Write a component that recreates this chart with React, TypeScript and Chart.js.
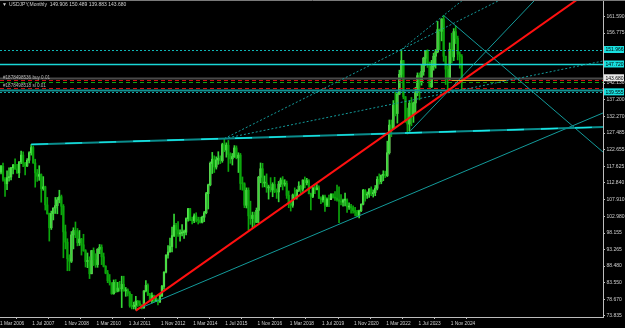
import React, { useEffect, useRef } from "react";
import { Chart, registerables } from "chart.js";

Chart.register(...registerables);

// Monthly USDJPY bars, Mar 2006 .. Apr 2025 (index 0 = Mar 2006)
const opens = [
  116.0, 117.7, 113.9, 112.6, 114.4, 114.6, 117.3, 118.1, 116.9, 115.8,
  119.0, 121.0, 118.6, 117.8, 119.5, 121.7, 123.2, 118.7, 115.8, 114.8, 115.3, 111.2,
  111.7, 106.4, 103.8, 99.7, 103.9, 105.5, 106.2, 107.9, 108.8, 106.0, 98.5, 95.5,
  90.6, 89.9, 97.6, 98.9, 98.5, 95.3, 96.4, 94.7, 93.0, 89.8, 90.1, 86.2,
  93.0, 90.3, 88.9, 93.4, 94.0, 91.2, 88.4, 86.4, 84.2, 83.5, 80.4, 83.7,
  81.1, 82.0, 81.8, 83.1, 81.2, 81.5, 80.5, 76.8, 76.6, 77.0, 78.2, 77.6,
  76.9, 76.2, 81.2, 82.8, 80.0, 78.3, 79.8, 78.1, 78.4, 77.9, 79.8, 82.5,
  86.7, 91.7, 92.6, 94.2, 97.4, 100.4, 99.1, 97.9, 98.1, 98.3, 98.4, 102.4,
  105.3, 102.0, 101.8, 103.2, 102.2, 101.8, 101.3, 102.8, 104.1, 109.7, 112.3, 118.6,
  119.8, 117.5, 119.6, 120.1, 119.4, 124.1, 122.5, 123.9, 121.2, 119.9, 120.6, 123.1,
  120.2, 121.0, 112.7, 112.6, 106.3, 110.7, 103.2, 102.4, 103.4, 101.3, 104.8, 114.5,
  117.0, 112.8, 112.8, 111.4, 111.5, 110.8, 112.4, 110.3, 110.2, 112.5, 113.7, 112.5,
  112.7, 109.2, 106.7, 106.3, 109.3, 108.8, 110.7, 111.9, 111.0, 113.7, 112.9, 113.5,
  109.7, 108.9, 111.4, 110.9, 111.4, 108.3, 107.9, 108.8, 106.3, 108.1, 108.0, 109.5,
  108.6, 108.4, 107.9, 107.5, 107.2, 107.8, 107.9, 105.8, 105.9, 105.5, 104.7, 104.3,
  103.2, 104.7, 106.6, 110.7, 109.3, 109.6, 111.1, 109.7, 110.0, 111.3, 113.9, 113.2,
  115.1, 115.1, 115.0, 121.7, 129.8, 128.7, 135.7, 133.2, 138.9, 144.7, 148.7, 138.1,
  131.1, 130.1, 136.2, 132.8, 136.3, 139.3, 144.3, 142.3, 145.5, 149.4, 151.7, 148.2,
  141.0, 147.0, 150.0, 151.3, 157.8, 157.3, 160.9, 150.0, 146.2, 143.6, 152.0, 149.8,
  157.2, 155.2, 150.6, 149.906,
];
const highs = [
  118.0, 118.7, 114.4, 116.4, 117.3, 117.4, 118.3, 119.9, 118.3, 119.1,
  122.2, 122.0, 118.9, 120.0, 122.0, 124.1, 123.7, 119.8, 116.8, 117.9, 115.5, 114.7,
  111.9, 108.6, 104.0, 104.6, 105.5, 108.6, 108.6, 110.7, 109.3, 106.5, 100.5, 96.5,
  91.8, 98.6, 99.7, 101.4, 99.5, 98.9, 96.6, 97.8, 93.3, 92.3, 91.2, 93.1,
  93.8, 92.1, 93.6, 94.8, 94.7, 92.3, 88.6, 87.2, 86.0, 83.6, 84.4, 84.5,
  83.7, 84.0, 85.5, 85.5, 82.2, 81.8, 81.0, 80.2, 77.9, 79.6, 78.4, 78.3,
  77.2, 81.2, 84.2, 83.3, 80.5, 80.6, 80.0, 79.7, 78.9, 80.4, 82.8, 86.8,
  91.8, 94.5, 96.7, 99.9, 103.7, 101.0, 101.5, 99.1, 100.6, 99.0, 102.6, 105.4,
  105.4, 102.8, 103.8, 104.1, 102.8, 102.8, 103.1, 104.5, 110.1, 112.5, 119.0, 121.8,
  120.8, 120.5, 122.0, 120.8, 124.5, 125.9, 124.6, 125.3, 121.7, 121.5, 123.8, 123.7,
  121.7, 121.5, 114.6, 112.9, 111.4, 111.4, 107.5, 104.3, 104.3, 105.5, 114.8, 118.7,
  118.6, 114.9, 115.5, 112.2, 114.4, 112.9, 114.5, 111.1, 113.3, 114.3, 114.7, 113.8,
  113.4, 110.5, 107.3, 109.6, 111.4, 110.9, 113.2, 112.2, 113.7, 114.6, 114.2, 113.8,
  109.9, 111.5, 112.1, 112.4, 112.0, 108.8, 109.3, 109.3, 108.5, 109.3, 109.7, 109.7,
  110.3, 112.2, 111.7, 109.4, 108.1, 109.9, 108.2, 107.0, 106.6, 106.1, 105.7, 104.8,
  104.9, 106.7, 111.0, 110.9, 110.2, 111.1, 111.7, 110.8, 112.1, 114.7, 115.5, 115.2,
  116.4, 116.3, 125.1, 131.3, 131.3, 137.0, 139.4, 139.1, 145.9, 151.9, 148.8, 138.2,
  134.8, 136.9, 137.9, 136.6, 140.9, 145.1, 145.1, 147.4, 149.7, 151.7, 151.9, 148.3,
  148.8, 150.9, 152.0, 160.2, 158.0, 161.0, 161.95, 150.0, 147.2, 153.9, 156.75, 158.1,
  158.87, 155.9, 151.3, 150.489,
];
const lows = [
  115.5, 113.4, 108.9, 110.9, 113.4, 113.7, 115.5, 116.8, 115.6, 114.4,
  118.5, 117.6, 115.2, 117.6, 118.7, 121.0, 118.6, 111.6, 113.3, 113.6, 107.2, 110.7,
  104.9, 103.7, 95.8, 99.2, 102.0, 103.9, 103.8, 107.0, 103.5, 90.9, 93.5, 87.1,
  87.1, 89.5, 93.5, 96.8, 94.4, 94.5, 91.7, 92.8, 88.2, 88.0, 84.8, 86.3,
  88.6, 88.1, 88.1, 92.1, 88.9, 88.2, 86.2, 83.6, 82.9, 80.2, 80.2, 80.7,
  80.9, 81.1, 76.3, 81.1, 79.6, 79.7, 76.4, 75.9, 75.9, 75.6, 76.6, 76.9,
  75.9, 76.1, 80.9, 79.8, 78.2, 77.7, 77.9, 78.0, 77.1, 77.9, 79.5, 81.7,
  86.5, 90.8, 92.6, 92.6, 97.1, 93.8, 97.2, 95.8, 97.3, 96.6, 97.6, 101.6,
  101.8, 100.8, 101.2, 101.4, 100.8, 101.1, 101.1, 101.5, 103.8, 105.2, 112.0, 115.6,
  115.9, 116.9, 118.3, 118.5, 118.9, 122.0, 120.4, 116.2, 118.6, 118.1, 120.3, 119.9,
  115.9, 110.9, 110.7, 105.6, 105.5, 99.0, 100.7, 99.5, 100.1, 101.2, 101.2, 112.9,
  111.6, 111.7, 110.1, 108.1, 110.2, 108.8, 110.0, 108.3, 107.3, 111.7, 110.8, 111.9,
  108.3, 105.6, 104.6, 105.7, 108.1, 108.1, 110.3, 109.8, 110.4, 111.4, 112.3, 109.6,
  104.9, 108.5, 109.7, 110.8, 108.3, 106.8, 107.2, 104.5, 105.9, 105.9, 108.3, 108.4,
  107.7, 107.5, 101.2, 106.4, 106.0, 106.1, 104.2, 105.1, 104.0, 104.0, 103.2, 102.9,
  102.6, 104.4, 106.4, 107.5, 108.3, 108.6, 109.1, 108.7, 109.1, 110.8, 112.5, 112.6,
  113.5, 114.4, 114.7, 121.3, 126.4, 128.7, 132.5, 130.4, 138.7, 143.5, 137.5, 130.6,
  127.2, 128.1, 129.6, 130.6, 133.5, 138.4, 137.2, 141.5, 144.4, 147.3, 146.7, 140.9,
  140.8, 145.9, 146.5, 151.0, 151.9, 154.5, 148.5, 141.7, 139.6, 142.97, 148.0, 148.7,
  153.7, 148.9, 146.5, 139.883,
];
const closes = [
  117.7, 113.9, 112.6, 114.4, 114.6, 117.3, 118.1, 116.9, 115.8, 119.0,
  121.0, 118.6, 117.8, 119.5, 121.7, 123.2, 118.7, 115.8, 114.8, 115.3, 111.2, 111.7,
  106.4, 103.8, 99.7, 103.9, 105.5, 106.2, 107.9, 108.8, 106.0, 98.5, 95.5, 90.6,
  89.9, 97.6, 98.9, 98.5, 95.3, 96.4, 94.7, 93.0, 89.8, 90.1, 86.2, 93.0,
  90.3, 88.9, 93.4, 94.0, 91.2, 88.4, 86.4, 84.2, 83.5, 80.4, 83.7, 81.1,
  82.0, 81.8, 83.1, 81.2, 81.5, 80.5, 76.8, 76.6, 77.0, 78.2, 77.6, 76.9,
  76.2, 81.2, 82.8, 80.0, 78.3, 79.8, 78.1, 78.4, 77.9, 79.8, 82.5, 86.7,
  91.7, 92.6, 94.2, 97.4, 100.4, 99.1, 97.9, 98.1, 98.3, 98.4, 102.4, 105.3,
  102.0, 101.8, 103.2, 102.2, 101.8, 101.3, 102.8, 104.1, 109.7, 112.3, 118.6, 119.8,
  117.5, 119.6, 120.1, 119.4, 124.1, 122.5, 123.9, 121.2, 119.9, 120.6, 123.1, 120.2,
  121.0, 112.7, 112.6, 106.3, 110.7, 103.2, 102.4, 103.4, 101.3, 104.8, 114.5, 117.0,
  112.8, 112.8, 111.4, 111.5, 110.8, 112.4, 110.3, 110.2, 112.5, 113.7, 112.5, 112.7,
  109.2, 106.7, 106.3, 109.3, 108.8, 110.7, 111.9, 111.0, 113.7, 112.9, 113.5, 109.7,
  108.9, 111.4, 110.9, 111.4, 108.3, 107.9, 108.8, 106.3, 108.1, 108.0, 109.5, 108.6,
  108.4, 107.9, 107.5, 107.2, 107.8, 107.9, 105.8, 105.9, 105.5, 104.7, 104.3, 103.2,
  104.7, 106.6, 110.7, 109.3, 109.6, 111.1, 109.7, 110.0, 111.3, 113.9, 113.2, 115.1,
  115.1, 115.0, 121.7, 129.8, 128.7, 135.7, 133.2, 138.9, 144.7, 148.7, 138.1, 131.1,
  130.1, 136.2, 132.8, 136.3, 139.3, 144.3, 142.3, 145.5, 149.4, 151.7, 148.2, 141.0,
  147.0, 150.0, 151.3, 157.8, 157.3, 160.9, 150.0, 146.2, 143.6, 152.0, 149.8, 157.2,
  155.2, 150.6, 149.9, 143.680,
];

// Time-axis labels (bar index from Mar 2006) and price-axis ticks
const xTickIndex = [0, 16, 32, 48, 64, 80, 96, 112, 128, 144, 160, 176, 192, 208, 224];
const xTickLabels = [
  "1 Mar 2006", "1 Jul 2007", "1 Nov 2008", "1 Mar 2010", "1 Jul 2011",
  "1 Nov 2012", "1 Mar 2014", "1 Jul 2015", "1 Nov 2016", "1 Mar 2018",
  "1 Jul 2019", "1 Nov 2020", "1 Mar 2022", "1 Jul 2023", "1 Nov 2024",
];
const yTicks = [
  73.835, 78.67, 83.55, 88.48, 93.265, 98.155, 102.98, 107.91, 112.84, 117.625,
  122.655, 127.485, 132.27, 137.2, 142.13, 156.775, 161.59,
];

// Trend lines: [index1, price1, index2, price2], drawn as rays to the right
const cyanTrend = [15, 124.14, 111, 125.86];
const redTrend = [67, 75.4, 229, 142.75];
const tealTrend = [67, 75.6, 188.4, 105.8];
const dotSteep = [111, 125.86, 199, 151.95];
const dotFlat = [111, 125.86, 299.2, 148.6];
const highsLine = [199, 151.95, 220, 161.95];
const peakDown = [220, 161.95, 299.2, 121.9];
const lowsLine = [202, 127.2, 222, 139.6];

// Horizontal levels
const levelBoxes = [151.966, 147.72, 139.555];
const bidPrice = 143.68;
const headerText = "USDJPY,Monthly  149.906 150.489 139.883 143.680";
const orderLabels = ["#1878498536 buy 0.01", "#1878498518 sl 0.01"];
const orderPrices = [143.1, 140.7];

const X_MIN = -0.5;
const X_MAX = 299.2;
const Y_MIN = 73.54;
const Y_MAX = 166.48;

const BULL = "#aaff8c";
const BEAR = "#0ca60c";
const WICK_UP = "#36d636";
const WICK_DN = "#0ca60c";
const FONT = "'Liberation Sans', Arial, sans-serif";

export default function App() {
  const ref = useRef<HTMLCanvasElement | null>(null);

  useEffect(() => {
    document.body.style.margin = "0";
    document.body.style.background = "#000";
    const canvas = ref.current!;
    const n = closes.length;
    const wick = [] as any[];
    const body = [] as any[];
    const colors: string[] = [];
    const wcolors: string[] = [];
    for (let i = 0; i < n; i++) {
      wick.push({ x: i, y: [lows[i], highs[i]] });
      body.push({ x: i, y: [opens[i], closes[i]] });
      const up = closes[i] >= opens[i];
      colors.push(up ? BULL : BEAR);
      wcolors.push(up ? WICK_UP : WICK_DN);
    }

    const overlay = {
      id: "mtOverlay",
      beforeDraw(chart: any) {
        const { ctx, width, height } = chart;
        ctx.save();
        ctx.fillStyle = "#000";
        ctx.fillRect(0, 0, width, height);
        ctx.restore();
      },
      afterDatasetsDraw(chart: any) {
        const { ctx, chartArea } = chart;
        const xs = chart.scales.x;
        const ys = chart.scales.y;
        const L = chartArea.left, R = chartArea.right, T = chartArea.top, B = chartArea.bottom;
        ctx.save();
        ctx.beginPath();
        ctx.rect(L, T, R - L, B - T);
        ctx.clip();

        const hline = (p: number, color: string, w: number, dash: number[]) => {
          const y = Math.round(ys.getPixelForValue(p)) + 0.5;
          ctx.strokeStyle = color;
          ctx.lineWidth = w;
          ctx.setLineDash(dash);
          ctx.beginPath();
          ctx.moveTo(L, y);
          ctx.lineTo(R, y);
          ctx.stroke();
        };
        const ray = (t: number[], color: string, w: number, dash: number[]) => {
          const [i1, p1, i2, p2] = t;
          const slope = (p2 - p1) / (i2 - i1);
          const xEnd = X_MAX;
          const pEnd = p1 + slope * (xEnd - i1);
          ctx.strokeStyle = color;
          ctx.lineWidth = w;
          ctx.setLineDash(dash);
          ctx.beginPath();
          ctx.moveTo(xs.getPixelForValue(i1), ys.getPixelForValue(p1));
          ctx.lineTo(xs.getPixelForValue(xEnd), ys.getPixelForValue(pEnd));
          ctx.stroke();
        };

        // horizontal levels
        hline(levelBoxes[0], "#0fb5b5", 1, [2, 2]);
        hline(levelBoxes[1], "#19d6d6", 1.6, []);
        hline(bidPrice, "#4a4a4a", 2, []);
        hline(orderPrices[0], "#d01010", 1, [4, 3]);
        hline(142.5, "#11a011", 1, [4, 3]);
        hline(orderPrices[1], "#d01010", 1, [4, 3]);
        hline(140.1, "#138f8f", 2, []);
        hline(levelBoxes[2], "#12a8a8", 1, [2, 2]);

        // trend lines
        ray(tealTrend, "#139a9a", 1, []);
        ray(dotSteep, "#139a9a", 1, [2, 2]);
        ray(dotFlat, "#139a9a", 1, [2, 2]);
        ray(highsLine, "#139a9a", 1, [2, 2]);
        ray(peakDown, "#139a9a", 1, []);
        ray(lowsLine, "#139a9a", 1, []);
        ray(cyanTrend, "#0a8c8c", 2, []);
        ray(cyanTrend, "#19e8e8", 1.4, [17, 17]);
        ray(redTrend, "#ff1010", 2, []);

        // orange segment
        ctx.setLineDash([]);
        ctx.strokeStyle = "#e0a020";
        ctx.lineWidth = 1;
        const oy = Math.round(ys.getPixelForValue(143.1)) + 0.5;
        ctx.beginPath();
        ctx.moveTo(xs.getPixelForValue(224), oy);
        ctx.lineTo(xs.getPixelForValue(251), oy);
        ctx.stroke();

        // order labels
        ctx.font = "4.6px " + FONT;
        ctx.fillStyle = "#b8b8b8";
        ctx.textBaseline = "bottom";
        ctx.fillText(orderLabels[0], 3, ys.getPixelForValue(orderPrices[0]));
        ctx.fillText(orderLabels[1], 3, ys.getPixelForValue(orderPrices[1]));
        ctx.restore();

        // header + top border
        ctx.save();
        ctx.strokeStyle = "#7a7a7a";
        ctx.lineWidth = 1;
        ctx.beginPath();
        ctx.moveTo(0, 0.5);
        ctx.lineTo(chart.width, 0.5);
        ctx.stroke();
        ctx.font = "5px " + FONT;
        ctx.fillStyle = "#d0d0d0";
        ctx.textBaseline = "middle";
        ctx.fillText("\u25BC", 2, 5);
        ctx.fillText(headerText, 9, 5);

        // price boxes on the right axis
        const box = (p: number, bg: string) => {
          const y = ys.getPixelForValue(p);
          ctx.fillStyle = bg;
          ctx.fillRect(R + 1, y - 3.5, 20, 7);
          ctx.fillStyle = "#000";
          ctx.textBaseline = "middle";
          ctx.fillText(p.toFixed(3), R + 2.5, y + 0.5);
        };
        box(levelBoxes[0], "#19e0e0");
        box(levelBoxes[1], "#19e0e0");
        box(bidPrice, "#e8e8e8");
        box(levelBoxes[2], "#19e0e0");
        ctx.restore();
      },
    };

    const chart = new Chart(canvas, {
      type: "bar",
      data: {
        datasets: [
          {
            data: wick,
            backgroundColor: wcolors,
            barThickness: 1,
            grouped: false,
          } as any,
          {
            data: body,
            backgroundColor: colors,
            barThickness: 1.5,
            grouped: false,
            minBarLength: 1,
          } as any,
        ],
      },
      options: {
        responsive: false,
        animation: false,
        maintainAspectRatio: false,
        layout: { padding: 0 },
        plugins: { legend: { display: false }, tooltip: { enabled: false } },
        scales: {
          x: {
            type: "linear",
            min: X_MIN,
            max: X_MAX,
            offset: false,
            grid: { display: true, drawOnChartArea: false, drawTicks: true, tickLength: 2, color: "#bdbdbd" },
            border: { display: true, color: "#bdbdbd", width: 1 },
            afterBuildTicks: (s: any) => {
              s.ticks = xTickIndex.map((v) => ({ value: v - 0.5 }));
            },
            afterFit: (s: any) => {
              s.height = 11;
              s.paddingLeft = 0;
              s.paddingRight = 0;
            },
            ticks: {
              autoSkip: false,
              maxRotation: 0,
              align: "start",
              padding: 2,
              color: "#d0d0d0",
              font: { family: FONT, size: 4.8 },
              callback: (_v: any, i: number) => xTickLabels[i],
            },
          },
          y: {
            type: "linear",
            position: "right",
            min: Y_MIN,
            max: Y_MAX,
            grid: { display: true, drawOnChartArea: false, drawTicks: true, tickLength: 2, color: "#bdbdbd" },
            border: { display: true, color: "#bdbdbd", width: 1 },
            afterBuildTicks: (s: any) => {
              s.ticks = yTicks.map((v) => ({ value: v }));
            },
            afterFit: (s: any) => {
              s.width = 22;
              s.paddingTop = 0;
              s.paddingBottom = 0;
            },
            ticks: {
              autoSkip: false,
              padding: 1.5,
              color: "#d0d0d0",
              font: { family: FONT, size: 5 },
              callback: (v: any) => Number(v).toFixed(3),
            },
          },
        },
      },
      plugins: [overlay],
    } as any);

    return () => chart.destroy();
  }, []);

  return (
    <div style={{ position: "fixed", left: 0, top: 0, width: 625, height: 328, background: "#000" }}>
      <canvas ref={ref} width={625} height={328} style={{ display: "block", width: 625, height: 328 }} />
    </div>
  );
}
